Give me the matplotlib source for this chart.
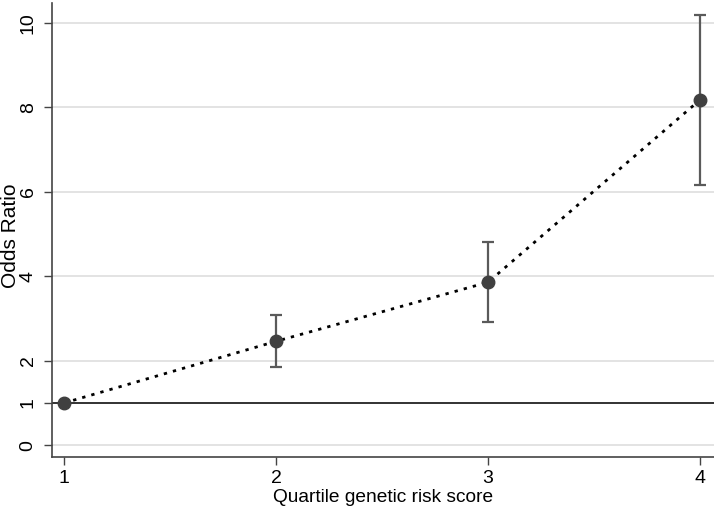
import matplotlib
matplotlib.use("Agg")
import matplotlib.pyplot as plt

plt.rcParams['font.family'] = ['Liberation Sans', 'DejaVu Sans']

quartiles = [1, 2, 3, 4]
odds_ratio = [1.0, 2.46, 3.86, 8.18]
ci_lower = [1.0, 1.85, 2.91, 6.16]
ci_upper = [1.0, 3.08, 4.82, 10.19]
yticks = [0, 1, 2, 4, 6, 8, 10]
grid_vals = [0, 2, 4, 6, 8, 10]

fig = plt.figure(figsize=(7.14, 5.11), dpi=100)
ax = fig.add_axes([0.0728, 0.1057, 0.9272, 0.888])

for g in grid_vals:
    ax.axhline(g, color='#dedede', lw=1.2, zorder=0)
ax.axhline(1, color='#222222', lw=1.3, zorder=1)

yerr = [[o - l for o, l in zip(odds_ratio, ci_lower)],
        [u - o for o, u in zip(odds_ratio, ci_upper)]]
ax.errorbar(quartiles[1:], odds_ratio[1:],
            yerr=[yerr[0][1:], yerr[1][1:]],
            fmt='none', ecolor='#5a5a5a', elinewidth=1.6, capsize=4.5, capthick=1.6, zorder=2)
ax.plot(quartiles, odds_ratio, linestyle=(0, (1.2, 2.2)), color='black', lw=2.0, zorder=3)
ax.plot(quartiles, odds_ratio, 'o', color='#404040', markersize=9, zorder=4)

ax.set_xlim(0.943, 4.066)
ax.set_ylim(-0.28, 10.47)
ax.set_xticks(quartiles)
ax.set_yticks(yticks)
ax.tick_params(axis='both', labelsize=14, length=6, width=1, color='#444444', direction='out')
ax.tick_params(axis='y', labelrotation=90, pad=5)
for lbl in ax.get_yticklabels():
    lbl.set_va('center')
ax.set_xlabel('Quartile genetic risk score', fontsize=13.8, labelpad=1)
ax.set_ylabel('Odds Ratio', fontsize=15)
ax.yaxis.set_label_coords(-0.049, 0.487)

for s in ['top', 'right']:
    ax.spines[s].set_visible(False)
for s in ['left', 'bottom']:
    ax.spines[s].set_color('#444444')
    ax.spines[s].set_linewidth(1.2)

fig.savefig('out.png', dpi=100)
